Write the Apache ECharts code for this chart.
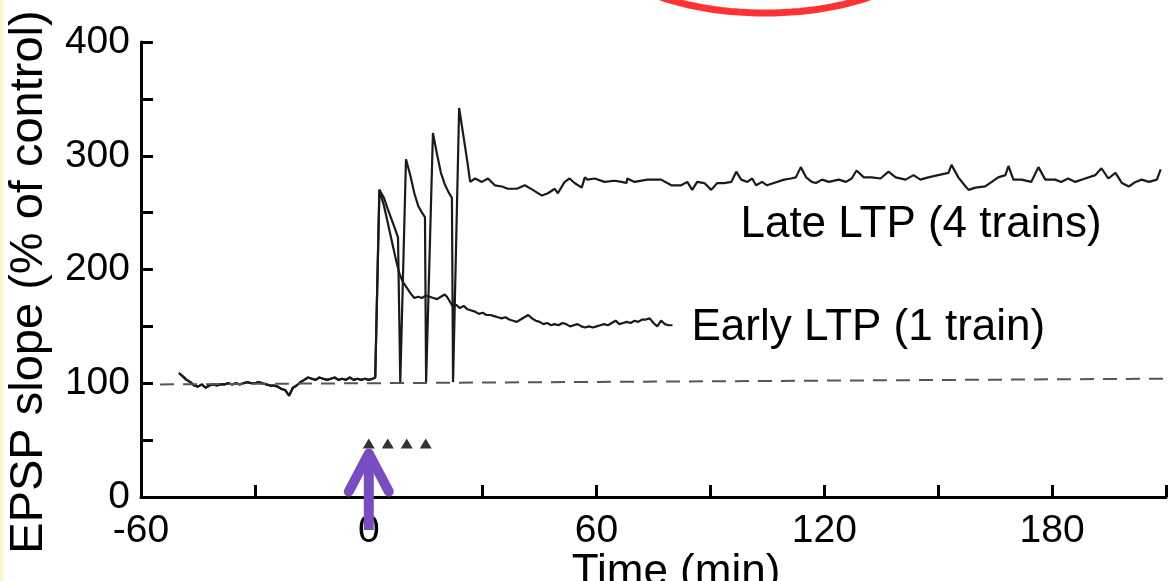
<!DOCTYPE html>
<html>
<head>
<meta charset="utf-8">
<script src="https://cdn.jsdelivr.net/npm/echarts@6/dist/echarts.min.js"></script>
<style>
  html, body { margin: 0; padding: 0; background: #fff; }
  #main { width: 1169px; height: 581px; }
</style>
</head>
<body>
<div id="main"></div>
<script>
// baseline before the trains (shared by both recordings)
const baseline = [[-50,109],[-49,106],[-48,103],[-47,101],[-46,98],[-45,97],[-44,99],[-43,96],[-42,98],[-41,99],[-40,98],[-39,99],[-38,99],[-37,100],[-36,99],[-35,100],[-34,99],[-33,100],[-32,101],[-31,100],[-30,100],[-29,101],[-28,100],[-27,99],[-26,98],[-25,98],[-24,97],[-23,95],[-22,94],[-21,89],[-20.5,88],[-20,96],[-19,98],[-18,101],[-17,103],[-16,105],[-15,104],[-14,103],[-13,105],[-12,104],[-11,103],[-10,104],[-9,105],[-8,103],[-7,104],[-6,103],[-5,105],[-4,103],[-3,104],[-2,103],[-1,104],[0,103]];

const earlyAfter = [[1,104],[1.7,105],[2.8,270],[4,256],[5,241],[6,226],[7,211],[8,197],[9,189],[10,184],[11,179],[12,175],[13,176],[14,175],[15,177],[16,176],[17,175],[18,174],[19,176],[20,178],[20.6,176],[21.5,171],[22.2,167],[23,169],[24,166],[25,168],[26,165],[27,164],[28,163],[29,161],[30,162],[31,160],[32,160],[33,159],[34,158],[35,157],[36,158],[37,156],[38,155],[39,154],[40,156],[41,158],[42,160],[43,157],[44,155],[45,154],[46,152],[47,153],[48,151],[49,152],[50,151],[51,153],[52,152],[53,150],[54,151],[55,152],[56,150],[57,149],[58,150],[59,149],[60,150],[61,151],[62,152],[63,151],[64,153],[65,155],[66,152],[67,153],[68,154],[69,153],[70,155],[71,154],[72,156],[73,156],[74,157],[75,153],[76,150],[77,155],[78,152],[79,151],[80,151]];

const lateAfter = [[1,104],[1.7,105],[2.8,270],[4,263],[5,253],[6,244],[7,235],[7.7,228],[8.3,101],[9.8,297],[11,282],[12,267],[13,256],[14,250],[14.8,246],[15.1,101],[16.9,320],[18,301],[19,285],[20,275],[21,268],[21.9,263],[22.2,101],[23.8,342],[25,316],[26,294],[26.7,277],[28,280],[29.8,277],[31.4,280],[33.2,274],[35.1,273],[36.6,271],[39,271],[41.1,274],[43.2,270],[45.6,265],[47.2,267],[49,271],[49.8,267],[51.6,277],[52.9,280],[54.2,276],[56.1,272],[56.9,281],[57.6,279],[59.5,280],[62.1,277],[64.7,278],[66.6,277],[67.9,276],[68.1,280],[70,277],[73.4,279],[77,279],[79.7,274],[82.3,274],[83.9,277],[85.2,270],[86.5,277],[88.4,276],[90.2,270],[91.8,276],[93.6,276],[95.5,277],[96.8,286],[98.1,279],[99.7,277],[101,280],[102,274],[103.6,277],[104.9,274],[106.7,276],[109.4,279],[111.2,280],[112.5,281],[113.8,290],[115.2,281],[116.7,277],[117.8,276],[119.4,279],[121.2,277],[123.8,279],[125.7,277],[127.2,280],[128.5,287],[130.4,281],[132.5,281],[134.8,280],[136.9,286],[138.8,281],[141.4,279],[143.5,283],[145.3,279],[147.4,281],[150,283],[152.7,285],[153.5,292],[155.3,281],[157.2,273],[158,270],[159.8,272],[162.4,273],[165.8,281],[167.7,283],[168.5,291],[169.8,279],[171.9,279],[174.5,277],[176.4,290],[178.2,279],[180.8,279],[182.4,277],[184.2,280],[186.1,277],[188.7,280],[191.4,283],[193,289],[194.8,280],[196.7,285],[198.4,276],[200.2,273],[202,277],[203.6,279],[205.5,277],[207.6,279],[208.6,288]];

const trainTimes = [0, 5, 10, 15];
const trainMarkY = 47;
const refLine = [[-55, 99], [210, 104]];

// labels: [text, time, value]
const curveLabels = [
  ['Late LTP (4 trains)', 97.9, 239],
  ['Early LTP (1 train)', 85, 148.6]
];
const arrowFrom = [0, -29];
const arrowTo = [0, 40];

const FONT = '"Liberation Sans", Arial, sans-serif';
const chart = echarts.init(document.getElementById('main'));

const axisCommon = {
  type: 'value',
  splitLine: {show: false},
  axisLine: {show: true, onZero: false, lineStyle: {color: '#000', width: 3}},
  axisTick: {show: true, inside: true, length: 12, lineStyle: {color: '#000', width: 3}}
};

const option = {
  animation: false,
  backgroundColor: '#fff',
  grid: {left: 141, right: 0, top: 42, bottom: 84},
  xAxis: Object.assign({}, axisCommon, {
    min: -60, max: 210, interval: 30,
    axisLabel: {
      formatter: v => (v % 60 === 0 ? String(v) : ''),
      color: '#000', fontSize: 39, fontFamily: FONT,
      margin: 34, verticalAlign: 'middle'
    }
  }),
  yAxis: Object.assign({}, axisCommon, {
    min: 0, max: 400, interval: 50,
    axisLabel: {
      formatter: v => (v % 100 === 0 ? String(v) : ''),
      color: '#000', fontSize: 39, fontFamily: FONT, margin: 11
    }
  }),
  series: [
    {
      name: 'Early LTP', type: 'line', showSymbol: false,
      data: baseline.concat(earlyAfter),
      lineStyle: {color: '#1a1a1a', width: 2.2},
      markLine: {
        silent: true, symbol: 'none', label: {show: false},
        lineStyle: {color: '#555', width: 2, type: [14, 9]},
        data: [[{coord: refLine[0]}, {coord: refLine[1]}]]
      }
    },
    {
      name: 'Late LTP', type: 'line', showSymbol: false,
      data: baseline.concat(lateAfter),
      lineStyle: {color: '#1a1a1a', width: 2.2}
    },
    {
      name: 'trains', type: 'scatter', symbol: 'triangle', symbolSize: [12, 10],
      itemStyle: {color: '#000'}, z: 5,
      data: trainTimes.map(t => [t, trainMarkY])
    }
  ]
};
chart.setOption(option);

// annotations placed through the grid's scale
const px = p => chart.convertToPixel({gridIndex: 0}, p);
const graphics = [];

curveLabels.forEach(l => {
  const p = px([l[1], l[2]]);
  graphics.push({
    type: 'text', x: p[0], y: p[1],
    style: {text: l[0], font: '44px ' + FONT, fill: '#000',
      align: 'left', verticalAlign: 'middle', textAlign: 'left', textVerticalAlign: 'middle'}
  });
});

graphics.push({
  type: 'text', x: 29, y: 282, rotation: Math.PI / 2,
  style: {text: 'EPSP slope (% of control)', font: '47px ' + FONT, fill: '#000',
    align: 'center', verticalAlign: 'middle', textAlign: 'center', textVerticalAlign: 'middle'}
});
graphics.push({
  type: 'text', x: 676, y: 573,
  style: {text: 'Time (min)', font: '44px ' + FONT, fill: '#000',
    align: 'center', verticalAlign: 'middle', textAlign: 'center', textVerticalAlign: 'middle'}
});

// purple arrow pointing at the first train
const a0 = px(arrowFrom), a1 = px(arrowTo);
const arrowStyle = {stroke: '#7a4cc2', lineWidth: 10, lineCap: 'round', lineJoin: 'round', fill: null};
graphics.push({type: 'line', shape: {x1: a0[0], y1: a0[1], x2: a1[0], y2: a1[1] + 4}, style: Object.assign({}, arrowStyle, {lineCap: 'butt'}), z: 100});
graphics.push({type: 'polyline', shape: {points: [[a1[0] - 20, a1[1] + 40], [a1[0], a1[1] + 2], [a1[0] + 20, a1[1] + 40]]}, style: arrowStyle, z: 100});

// red ring partly off the top edge
const ring = [];
for (let i = 0; i <= 60; i++) {
  const a = Math.PI * i / 60;
  ring.push([765 + 167 * Math.cos(a), -60 + 73 * Math.sin(a)]);
}
graphics.push({type: 'polyline', shape: {points: ring}, style: {stroke: '#ff3333', lineWidth: 7, fill: null}, z: 100});

// faint yellow edge on the left
graphics.push({type: 'rect', shape: {x: 0, y: 0, width: 3, height: 581}, style: {fill: '#fbf6cf'}, z: 100});

chart.setOption({graphic: graphics});
</script>
</body>
</html>
